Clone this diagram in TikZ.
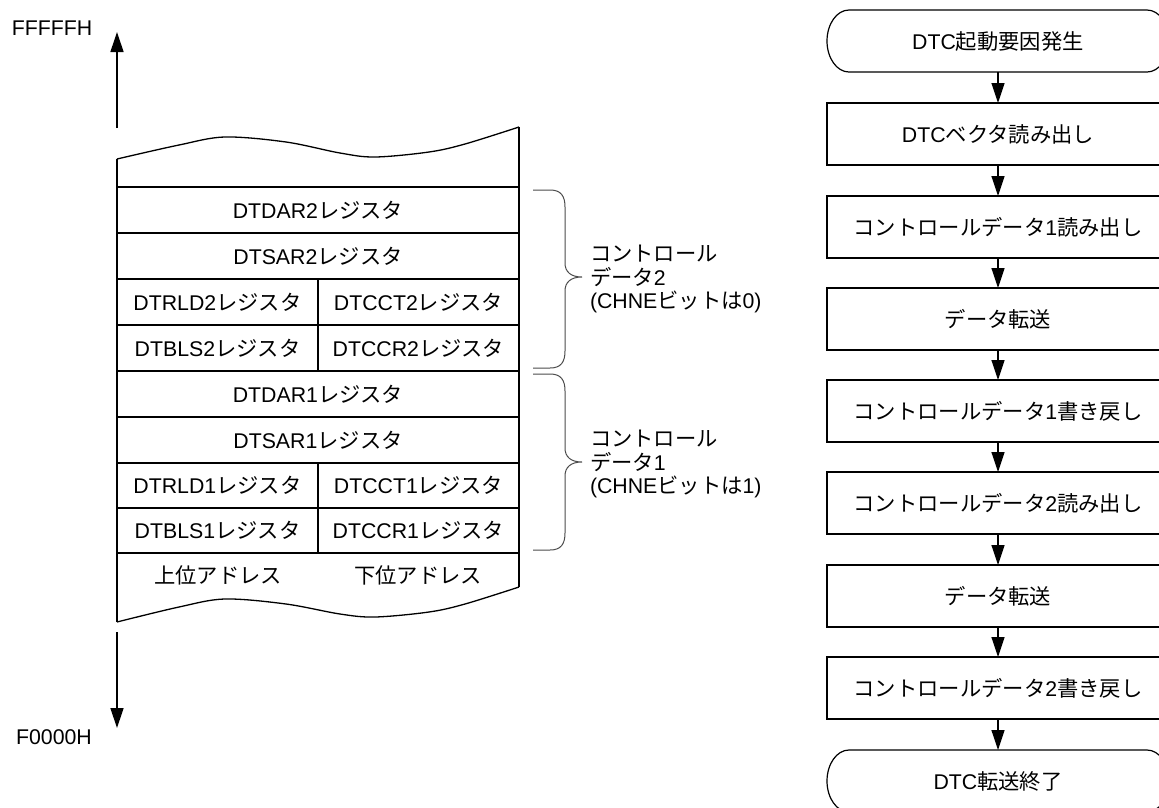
\documentclass[tikz,border=0pt]{standalone}
\usepackage{fontspec}
\setmainfont{Liberation Sans}
\newfontfamily\jp{Noto Sans CJK JP}
\newcommand{\J}[1]{{\jp #1}}
\usetikzlibrary{arrows.meta}
\begin{document}
\begin{tikzpicture}[x=1pt,y=-1pt,
  every node/.style={font=\fontsize{21.3}{23.5}\selectfont, inner sep=0pt, outer sep=0pt},
  ln/.style={line width=1.3pt, black},
  brc/.style={line width=1pt, black!70},
  arr/.style={line width=1.3pt, -{Triangle[length=20pt,width=13pt]}},
  fbox/.style={draw, line width=1.2pt, rectangle, minimum width=342pt, minimum height=62pt},
  term/.style={rectangle, minimum width=342pt, minimum height=62pt},
  lbl/.style={anchor=west, align=left}
]
\clip (0,0) rectangle (1159,807);
\fill[white] (0,0) rectangle (1159,807);

% address labels and arrows
\node (ftop) at (52,28) {FFFFFH};
\node (fbot) at (54,737) {F0000H};
\coordinate (upS) at (117,128);
\coordinate (upE) at (117,32);
\coordinate (dnS) at (117,632);
\coordinate (dnE) at (117,728);
\draw[arr] (upS) -- (upE);
\draw[arr] (dnS) -- (dnE);

% memory table outline
\draw[ln] (117,622) -- (117,159);
\draw[ln] (519,587) -- (519,127);
\draw[ln] plot[smooth, tension=0.55] coordinates {(117,159) (179,145) (225,137) (286,142) (340,153) (375,157) (429,152) (465,144) (519,127)};
\draw[ln] plot[smooth, tension=0.55] coordinates {(117,622) (179,607) (225,599) (286,604) (340,614) (375,617) (429,612) (465,604) (519,587)};
\foreach \yy in {187,233,279,325,371,417,463,508,553}
  \draw[ln] (117,\yy) -- (519,\yy);
\draw[ln] (318,279) -- (318,371);
\draw[ln] (318,463) -- (318,553);

% cell texts
\node (dar2) at (318,210) {DTDAR2\J{レジスタ}};
\node (sar2) at (318,256) {DTSAR2\J{レジスタ}};
\node (rld2) at (217.5,302) {DTRLD2\J{レジスタ}};
\node (cct2) at (418.5,302) {DTCCT2\J{レジスタ}};
\node (bls2) at (217.5,348) {DTBLS2\J{レジスタ}};
\node (ccr2) at (418.5,348) {DTCCR2\J{レジスタ}};
\node (dar1) at (318,394) {DTDAR1\J{レジスタ}};
\node (sar1) at (318,440) {DTSAR1\J{レジスタ}};
\node (rld1) at (217.5,485.5) {DTRLD1\J{レジスタ}};
\node (cct1) at (418.5,485.5) {DTCCT1\J{レジスタ}};
\node (bls1) at (217.5,530.5) {DTBLS1\J{レジスタ}};
\node (ccr1) at (418.5,530.5) {DTCCR1\J{レジスタ}};
\node (hi) at (218,575) {\J{上位アドレス}};
\node (lo) at (418,575) {\J{下位アドレス}};

% braces
\draw[brc] (533,190) -- (550,190) .. controls (561,190) and (565,196) .. (565,207) -- (565,263)
  .. controls (565,272) and (571,277) .. (582,277) .. controls (571,277) and (565,282) .. (565,291)
  -- (565,351) .. controls (565,362) and (561,368) .. (550,368) -- (533,368);
\draw[brc] (533,374) -- (550,374) .. controls (561,374) and (565,380) .. (565,391) -- (565,448)
  .. controls (565,457) and (571,462) .. (582,462) .. controls (571,462) and (565,467) .. (565,476)
  -- (565,533) .. controls (565,544) and (561,550) .. (550,550) -- (533,550);
\node[lbl] (cd2) at (590,279) {\J{コントロール}\\\J{データ}2\\(CHNE\J{ビットは}0)};
\node[lbl] (cd1) at (590,464) {\J{コントロール}\\\J{データ}1\\(CHNE\J{ビットは}1)};

% flowchart
\node[term] (t0) at (998,41) {DTC\J{起動要因発生}};
\node[fbox] (b1) at (998,134) {DTC\J{ベクタ読み出し}};
\node[fbox] (b2) at (998,227) {\J{コントロールデータ}1\J{読み出し}};
\node[fbox] (b3) at (998,319) {\J{データ転送}};
\node[fbox] (b4) at (998,411) {\J{コントロールデータ}1\J{書き戻し}};
\node[fbox] (b5) at (998,503) {\J{コントロールデータ}2\J{読み出し}};
\node[fbox] (b6) at (998,596) {\J{データ転送}};
\node[fbox] (b7) at (998,688) {\J{コントロールデータ}2\J{書き戻し}};
\node[term] (t1) at (998,781) {DTC\J{転送終了}};
\foreach \t in {t0,t1}
  \draw[line width=1.2pt] ([xshift=22pt]\t.north west) -- ([xshift=-22pt]\t.north east)
    arc[start angle=90,end angle=-90,x radius=22pt,y radius=31pt]
    -- ([xshift=22pt]\t.south west)
    arc[start angle=270,end angle=90,x radius=22pt,y radius=31pt] -- cycle;
\draw[arr] (t0) -- (b1);
\draw[arr] (b1) -- (b2);
\draw[arr] (b2) -- (b3);
\draw[arr] (b3) -- (b4);
\draw[arr] (b4) -- (b5);
\draw[arr] (b5) -- (b6);
\draw[arr] (b6) -- (b7);
\draw[arr] (b7) -- (t1);
\end{tikzpicture}
\end{document}
